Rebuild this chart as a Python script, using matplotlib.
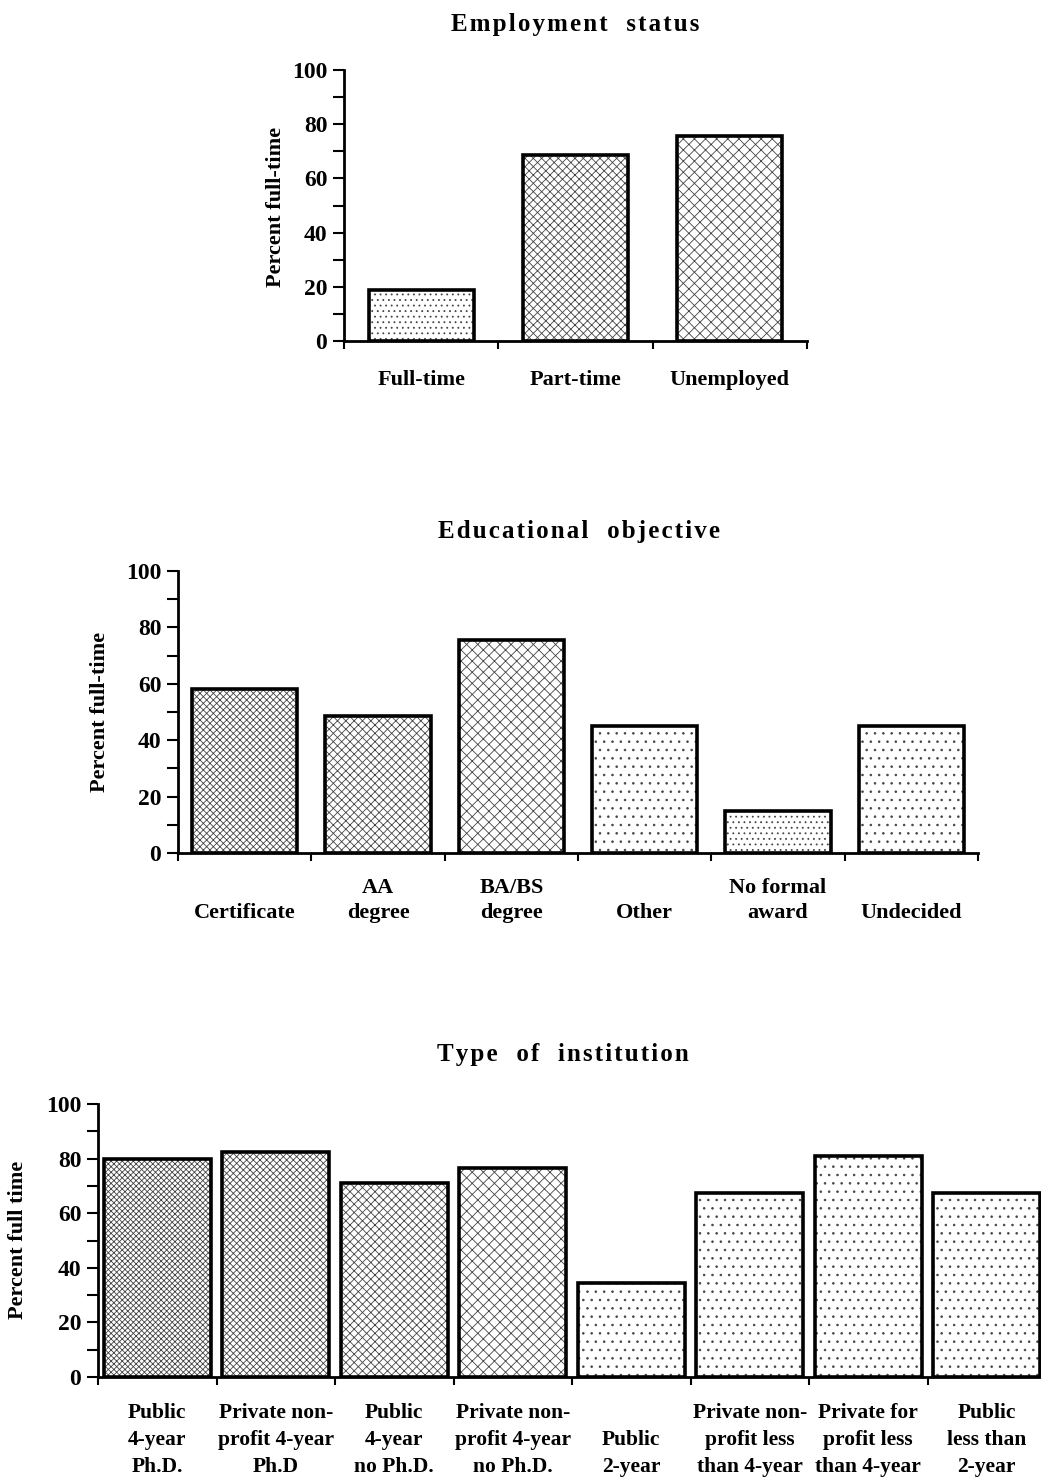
import matplotlib
matplotlib.use("Agg")
import matplotlib.pyplot as plt
import numpy as np

plt.rcParams["font.family"] = ["Liberation Serif", "DejaVu Serif"]
plt.rcParams["font.weight"] = "bold"
plt.rcParams["hatch.linewidth"] = 0.6

# ---- data ----
emp_labels = ["Full-time", "Part-time", "Unemployed"]
emp_values = [19, 68.5, 75.5]
emp_hatch = ["...", "xxxx", "xxx"]

edu_labels = ["\nCertificate", "AA\ndegree", "BA/BS\ndegree", "\nOther", "No formal\naward", "\nUndecided"]
edu_values = [58, 48.5, 75.5, 45, 15, 45]
edu_hatch = ["xxxxx", "xxxx", "xxx", "..", "...", ".."]

inst_labels = ["Public\n4-year\nPh.D.", "Private non-\nprofit 4-year\nPh.D", "Public\n4-year\nno Ph.D.",
               "Private non-\nprofit 4-year\nno Ph.D.", "\nPublic\n2-year", "Private non-\nprofit less\nthan 4-year",
               "Private for\nprofit less\nthan 4-year", "Public\nless than\n2-year"]
inst_values = [80, 82.5, 71, 76.5, 34.5, 67.5, 81, 67.5]
inst_hatch = ["xxxxxx", "xxxxx", "xxxx", "xxx", "..", "..", "..", ".."]

W, H = 1041, 1484
fig = plt.figure(figsize=(W / 100, H / 100), dpi=100)


def px_axes(left, right, top, bottom):
    return fig.add_axes([left / W, 1 - bottom / H, (right - left) / W, (bottom - top) / H])


def spaced(title):
    # the scanned titles are letter-spaced
    return "   ".join("\u200a".join(word) for word in title.split(" "))


def draw_panel(ax, labels, values, hatches, width, fs, pad, lsp):
    n = len(values)
    x = np.arange(n) + 0.5
    for xi, v, h in zip(x, values, hatches):
        ax.bar(xi, v, width=width, color="white", edgecolor="#444444", hatch=h, linewidth=0, zorder=2)
        ax.bar(xi, v, width=width, fill=False, edgecolor="black", linewidth=2.6, zorder=3)
    ax.set_xlim(0, n)
    ax.set_ylim(0, 100)
    for s in ["top", "right"]:
        ax.spines[s].set_visible(False)
    ax.spines["left"].set_linewidth(2)
    ax.spines["bottom"].set_linewidth(2)
    ax.set_yticks(np.arange(0, 101, 20))
    ax.set_yticks(np.arange(10, 100, 20), minor=True)
    ax.set_xticks(np.arange(0, n + 1))
    ax.set_xticklabels([])
    ax.set_xticks(x, minor=True)
    ax.set_xticklabels(labels, minor=True, fontsize=fs, linespacing=lsp)
    ax.tick_params(axis="x", which="major", direction="out", length=6, width=1.5)
    ax.tick_params(axis="x", which="minor", length=0, pad=pad)
    ax.tick_params(axis="y", which="both", direction="out", length=8, width=1.5, labelsize=17, pad=4)


ax1 = px_axes(344, 807, 70, 341)
draw_panel(ax1, emp_labels, emp_values, emp_hatch, 0.68, 16, 21, 1.3)
fig.text(276 / W, 1 - 207 / H, "Percent full-time", rotation=90, ha="center", va="center", fontsize=16)
fig.text(575 / W, 1 - 25 / H, spaced("Employment status"), ha="center", va="center", fontsize=18)

ax2 = px_axes(178, 978, 571, 853)
draw_panel(ax2, edu_labels, edu_values, edu_hatch, 0.79, 16, 18, 1.3)
fig.text(100 / W, 1 - 712 / H, "Percent full-time", rotation=90, ha="center", va="center", fontsize=16)
fig.text(579 / W, 1 - 532 / H, spaced("Educational objective"), ha="center", va="center", fontsize=18)

ax3 = px_axes(98, 1046, 1104, 1377)
draw_panel(ax3, inst_labels, inst_values, inst_hatch, 0.9, 15.5, 19, 1.45)
fig.text(18 / W, 1 - 1240 / H, "Percent full time", rotation=90, ha="center", va="center", fontsize=16)
fig.text(563 / W, 1 - 1055 / H, spaced("Type of institution"), ha="center", va="center", fontsize=18)

fig.savefig("out.png", dpi=100, facecolor="white")
